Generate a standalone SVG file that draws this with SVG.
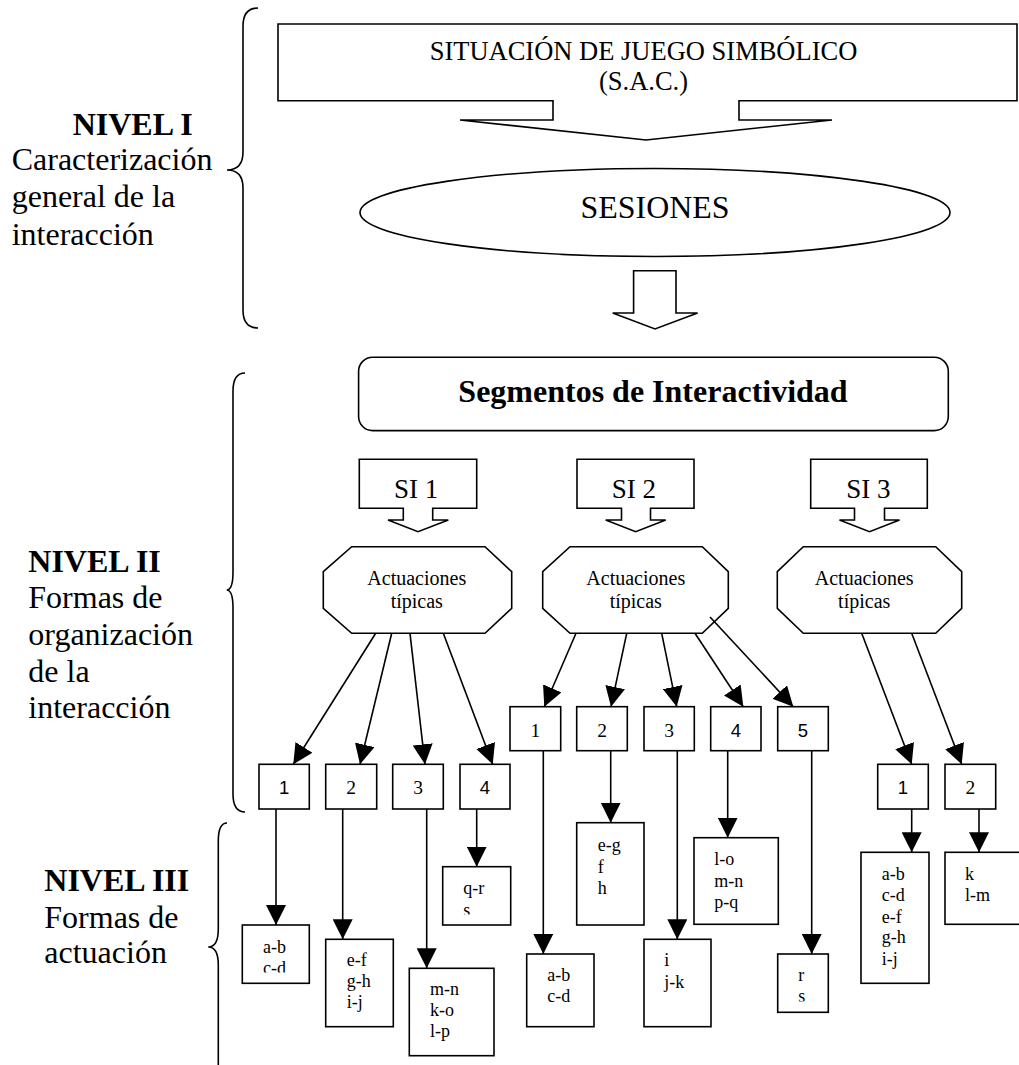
<svg xmlns="http://www.w3.org/2000/svg" width="1019" height="1065" viewBox="0 0 1019 1065">
<style>
.s{fill:none;stroke:#000;stroke-width:1.6}
.w{fill:#fff;stroke:#000;stroke-width:1.6}
.ln{fill:none;stroke:#000;stroke-width:1.6;marker-end:url(#ah)}
text{font-family:"Liberation Serif","Times New Roman",serif;fill:#000}
.lv{font-size:32px}
.lvb{font-size:32px;font-weight:bold}
.act{font-size:20px;text-anchor:middle}
.si{font-size:27px;text-anchor:middle}
.nm{font-size:19.5px;text-anchor:middle}
.ns{font-size:18.5px;text-anchor:middle;font-family:"Liberation Sans",Arial,sans-serif}
.it{font-size:18px}
</style>
<defs>
<marker id="ah" markerWidth="20" markerHeight="20" refX="20" refY="10" orient="auto" markerUnits="userSpaceOnUse">
<path d="M0,0 L20,10 L0,20 z" fill="#000"/>
</marker>
<clipPath id="c1"><rect x="242" y="925" width="68" height="47.5"/></clipPath>
<clipPath id="c4"><rect x="442" y="866" width="69" height="48.5"/></clipPath>
<clipPath id="c9"><rect x="777" y="954" width="52" height="47.5"/></clipPath>
</defs>
<rect x="0" y="0" width="1019" height="1065" fill="#fff"/>

<g id="braces">
<path class="s" d="M258,8 Q243,8 243,26 V152 Q243,170 227,170 Q243,170 243,188 V310 Q243,328 258,328"/>
<path class="s" d="M245,373 Q233,373 233,391 V572 Q233,590 226.7,590 Q233,590 233,608 V794 Q233,812 245,812"/>
<path class="s" d="M227,823 Q218.3,823 218.3,841 V929 Q218.3,947 208.3,947 Q218.3,947 218.3,965 V1070"/>
</g>

<g id="level1">
<text class="lvb" x="72.7" y="135">NIVEL I</text>
<text class="lv" x="11.7" y="170">Caracterización</text>
<text class="lv" x="11.7" y="207.3">general de la</text>
<text class="lv" x="11.7" y="245">interacción</text>
</g>
<g id="level2">
<text class="lvb" x="28.3" y="571.7">NIVEL II</text>
<text class="lv" x="28.3" y="608.3">Formas de</text>
<text class="lv" x="28.3" y="645">organización</text>
<text class="lv" x="28.3" y="681.7">de la</text>
<text class="lv" x="28.3" y="718.3">interacción</text>
</g>
<g id="level3">
<text class="lvb" x="44.3" y="891">NIVEL III</text>
<text class="lv" x="44.3" y="928.3">Formas de</text>
<text class="lv" x="44.3" y="963.3">actuación</text>
</g>

<g id="sac">
<path class="w" d="M278,24 H1017 V100.7 H739 V120 H832 L646,140 L460,120 H553 V100.7 H278 Z"/>
<text x="643.5" y="60" font-size="26.5" text-anchor="middle">SITUACIÓN DE JUEGO SIMBÓLICO</text>
<text x="643.5" y="90" font-size="26.5" text-anchor="middle">(S.A.C.)</text>
</g>

<g id="sesiones">
<ellipse class="w" cx="655" cy="212.5" rx="295" ry="44"/>
<text x="655" y="218.3" font-size="31" text-anchor="middle" textLength="149" lengthAdjust="spacingAndGlyphs">SESIONES</text>
</g>

<g id="arrow-down">
<path class="w" d="M633.6,270.7 H676 V313 H697.6 L655,329 L612.7,313 H633.6 Z"/>
</g>

<g id="segmentos">
<rect class="w" x="358.6" y="357.3" width="589.7" height="73.3" rx="14" ry="14"/>
<text x="653" y="402" font-size="32" font-weight="bold" text-anchor="middle">Segmentos de Interactividad</text>
</g>

<g id="si1">
<path class="w" d="M359.3,459.3 H476.7 V508.3 H432.7 V520 H448.3 L418,531.7 L388,520 H403.3 V508.3 H359.3 Z"/>
<text class="si" x="416.2" y="498.3">SI 1</text>
</g>
<g id="si2">
<path class="w" d="M577,459.3 H694 V508.3 H650.5 V520 H665.7 L635.7,531.7 L605.7,520 H621.5 V508.3 H577 Z"/>
<text class="si" x="633.8" y="498.3">SI 2</text>
</g>
<g id="si3">
<path class="w" d="M810.7,459.3 H927.3 V508.3 H884.5 V520 H899.5 L869.5,531.7 L839.5,520 H854.5 V508.3 H810.7 Z"/>
<text class="si" x="868.3" y="498.3">SI 3</text>
</g>

<g id="act1">
<path class="w" d="M351.7,546.7 H485 L511.7,571.7 V608.3 L485,633.3 H351.7 L323.3,608.3 V571.7 Z"/>
<text class="act" x="416.8" y="584.5">Actuaciones</text>
<text class="act" x="416.8" y="608">típicas</text>
</g>
<g id="act2">
<path class="w" d="M570,546.7 H702.3 L728.3,571.7 V608.3 L702.3,633.3 H570 L542.7,608.3 V571.7 Z"/>
<text class="act" x="635.8" y="584.5">Actuaciones</text>
<text class="act" x="635.8" y="608">típicas</text>
</g>
<g id="act3">
<path class="w" d="M803.3,546.7 H935.7 L961.7,571.7 V608.3 L935.7,633.3 H803.3 L777.3,608.3 V571.7 Z"/>
<text class="act" x="864.2" y="584.5">Actuaciones</text>
<text class="act" x="864.2" y="608">típicas</text>
</g>

<g id="connectors">
<line class="ln" x1="375.7" y1="633.3" x2="293.3" y2="764.3"/>
<line class="ln" x1="391.7" y1="633.3" x2="360" y2="764.3"/>
<line class="ln" x1="410" y1="633.3" x2="425" y2="764.3"/>
<line class="ln" x1="443.3" y1="633.3" x2="492.7" y2="764.3"/>
<line class="ln" x1="576" y1="633.3" x2="544.3" y2="706.7"/>
<line class="ln" x1="626.7" y1="633.3" x2="611" y2="706.7"/>
<line class="ln" x1="661.7" y1="633.3" x2="676.7" y2="706.7"/>
<line class="ln" x1="695" y1="633.3" x2="743.3" y2="706.7"/>
<line class="ln" x1="710" y1="617" x2="793.3" y2="706.7"/>
<line class="ln" x1="861.7" y1="633.3" x2="911.7" y2="764.3"/>
<line class="ln" x1="911.7" y1="633.3" x2="961.7" y2="764.3"/>
<line class="ln" x1="276" y1="809" x2="276" y2="925"/>
<line class="ln" x1="342.7" y1="809" x2="342.7" y2="939.3"/>
<line class="ln" x1="426.7" y1="809" x2="426.7" y2="968.3"/>
<line class="ln" x1="476.7" y1="809" x2="476.7" y2="866.7"/>
<line class="ln" x1="543.3" y1="750.7" x2="543.3" y2="954"/>
<line class="ln" x1="610.7" y1="750.7" x2="610.7" y2="822.7"/>
<line class="ln" x1="677.3" y1="750.7" x2="677.3" y2="939.3"/>
<line class="ln" x1="727.7" y1="750.7" x2="727.7" y2="837.7"/>
<line class="ln" x1="811.7" y1="750.7" x2="811.7" y2="954"/>
<line class="ln" x1="911.7" y1="809" x2="911.7" y2="852.3"/>
<line class="ln" x1="979" y1="809" x2="979" y2="852.3"/>
</g>

<g id="si1-n1"><rect class="w" x="259" y="764.3" width="50.3" height="44.7"/><text class="ns" x="284.2" y="794.3">1</text></g>
<g id="si1-n2"><rect class="w" x="325.7" y="764.3" width="51" height="44.7"/><text class="nm" x="351.2" y="794.3">2</text></g>
<g id="si1-n3"><rect class="w" x="392.7" y="764.3" width="50.6" height="44.7"/><text class="nm" x="418" y="794.3">3</text></g>
<g id="si1-n4"><rect class="w" x="460" y="764.3" width="50" height="44.7"/><text class="ns" x="485" y="794.3">4</text></g>

<g id="si2-n1"><rect class="w" x="510" y="706.7" width="50.7" height="44"/><text class="nm" x="535.4" y="736.7">1</text></g>
<g id="si2-n2"><rect class="w" x="576.7" y="706.7" width="50.6" height="44"/><text class="nm" x="602" y="736.7">2</text></g>
<g id="si2-n3"><rect class="w" x="644" y="706.7" width="50.3" height="44"/><text class="nm" x="669.2" y="736.7">3</text></g>
<g id="si2-n4"><rect class="w" x="710.7" y="706.7" width="50.3" height="44"/><text class="ns" x="735.9" y="736.7">4</text></g>
<g id="si2-n5"><rect class="w" x="777.7" y="706.7" width="50.6" height="44"/><text class="ns" x="803" y="736.7">5</text></g>

<g id="si3-n1"><rect class="w" x="877.7" y="764.3" width="50.6" height="44.7"/><text class="ns" x="903" y="794.3">1</text></g>
<g id="si3-n2"><rect class="w" x="945" y="764.3" width="50.7" height="44.7"/><text class="nm" x="970.3" y="794.3">2</text></g>

<g id="r1"><rect class="w" x="242.3" y="925" width="67" height="58.3"/>
<g clip-path="url(#c1)"><text class="it" x="263" y="952.7">a-b</text><text class="it" x="263" y="974">c-d</text></g></g>
<g id="r2"><rect class="w" x="325.7" y="939.3" width="67.6" height="87.4"/>
<text class="it" x="346.7" y="965.7">e-f</text><text class="it" x="346.7" y="986.9">g-h</text><text class="it" x="346.7" y="1008.3">i-j</text></g>
<g id="r3"><rect class="w" x="409.3" y="968.3" width="84.7" height="87.4"/>
<text class="it" x="430" y="995">m-n</text><text class="it" x="430" y="1016.3">k-o</text><text class="it" x="430" y="1037.3">l-p</text></g>
<g id="r4"><rect class="w" x="442.7" y="866.7" width="68" height="58.3"/>
<g clip-path="url(#c4)"><text class="it" x="463.3" y="894.3">q-r</text><text class="it" x="463.3" y="915.6">s</text></g></g>

<g id="s1"><rect class="w" x="526.7" y="954" width="67.3" height="72.7"/>
<text class="it" x="547.3" y="980.7">a-b</text><text class="it" x="547.3" y="1002.3">c-d</text></g>
<g id="s2"><rect class="w" x="576.7" y="822.7" width="67.3" height="102.3"/>
<text class="it" x="597.7" y="851">e-g</text><text class="it" x="597.7" y="872.7">f</text><text class="it" x="597.7" y="894.3">h</text></g>
<g id="s3"><rect class="w" x="644" y="939.3" width="67" height="87.4"/>
<text class="it" x="664.3" y="966">i</text><text class="it" x="664.3" y="988.3">j-k</text></g>
<g id="s4"><rect class="w" x="694" y="837.7" width="84.3" height="86.6"/>
<text class="it" x="714.3" y="865">l-o</text><text class="it" x="714.3" y="886.7">m-n</text><text class="it" x="714.3" y="908.3">p-q</text></g>
<g id="s5"><rect class="w" x="777.7" y="954" width="50.6" height="58.3"/>
<g clip-path="url(#c9)"><text class="it" x="798.3" y="980.7">r</text><text class="it" x="798.3" y="1002.2">s</text></g></g>

<g id="t1"><rect class="w" x="861" y="852.3" width="68" height="131"/>
<text class="it" x="881.7" y="880">a-b</text><text class="it" x="881.7" y="901">c-d</text><text class="it" x="881.7" y="922.7">e-f</text><text class="it" x="881.7" y="943.3">g-h</text><text class="it" x="881.7" y="965">i-j</text></g>
<g id="t2"><rect class="w" x="945" y="852.3" width="80" height="72"/>
<text class="it" x="965" y="880">k</text><text class="it" x="965" y="901">l-m</text></g>
</svg>
